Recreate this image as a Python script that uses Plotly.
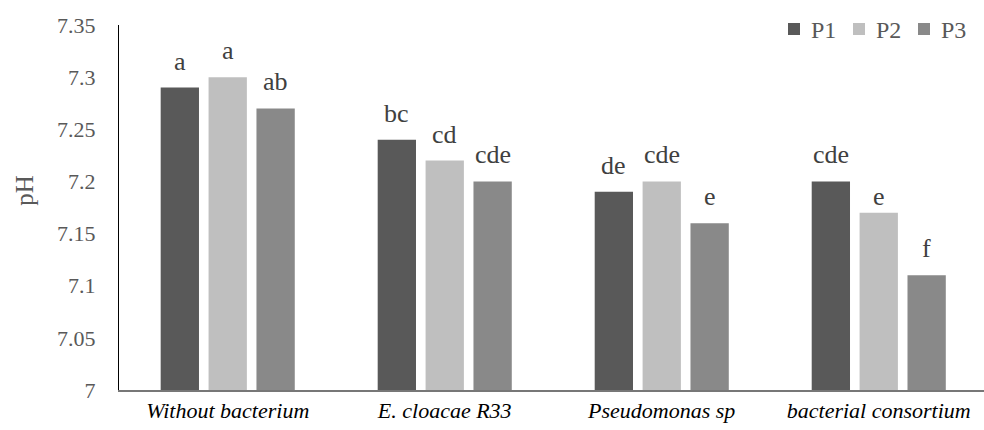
import plotly.graph_objects as go

# Treatments on the x axis and pH per sampling point
categories = ["Without bacterium", "E. cloacae R33", "Pseudomonas sp", "bacterial consortium"]
series_names = ["P1", "P2", "P3"]
p1_values = [7.29, 7.24, 7.19, 7.20]
p2_values = [7.30, 7.22, 7.20, 7.17]
p3_values = [7.27, 7.20, 7.16, 7.11]
p1_letters = ["a", "bc", "de", "cde"]
p2_letters = ["a", "cd", "cde", "e"]
p3_letters = ["ab", "cde", "e", "f"]
y_tick_values = [7.0, 7.05, 7.1, 7.15, 7.2, 7.25, 7.3, 7.35]
y_tick_labels = ["7", "7.05", "7.1", "7.15", "7.2", "7.25", "7.3", "7.35"]

# Styling
colors = ["#595959", "#bfbfbf", "#898989"]
FONT = "'Liberation Serif', 'Times New Roman', Times, serif"
SLOT = 0.2207      # distance between neighbouring bars, in category units
BAR_W = 0.1765     # bar width, in category units
LABEL_SHIFT = 10   # px between bar top and its letter label box
LABEL_NUDGE = {(1, 3): -10}   # (series, category) -> extra vertical px

# Legend geometry (px, measured from the right / top edge of the plot area)
LEG_FIRST = -196   # left edge of the first swatch
LEG_STEP = 65      # distance between entries
LEG_SWATCH = 12
LEG_TEXT_GAP = 21

values = [p1_values, p2_values, p3_values]
letters = [p1_letters, p2_letters, p3_letters]

fig = go.Figure()
annotations = []
shapes = []
for j, (name, vals, col, lets) in enumerate(zip(series_names, values, colors, letters)):
    xs = [i + (j - 1) * SLOT for i in range(len(categories))]
    fig.add_trace(go.Bar(
        x=xs, y=vals, width=BAR_W, name=name, showlegend=False,
        marker=dict(color=col, line=dict(width=0)),
    ))
    for i, (x, v, t) in enumerate(zip(xs, vals, lets)):
        annotations.append(dict(
            x=x, y=v, xref="x", yref="y", text=t, showarrow=False,
            yanchor="bottom", yshift=LABEL_SHIFT + LABEL_NUDGE.get((j, i), 0),
            font=dict(family=FONT, size=26, color="#404040"),
        ))

    # legend entry: swatch + name, top right
    left = LEG_FIRST + j * LEG_STEP
    shapes.append(dict(
        type="rect", xref="paper", yref="paper",
        xsizemode="pixel", ysizemode="pixel", xanchor=1, yanchor=1,
        x0=left, x1=left + LEG_SWATCH, y0=-10, y1=-10 + LEG_SWATCH,
        fillcolor=col, line=dict(width=0),
    ))
    annotations.append(dict(
        xref="paper", yref="paper", x=1, y=1, xanchor="left", yanchor="middle",
        xshift=left + LEG_TEXT_GAP, yshift=-5, text=name, showarrow=False,
        font=dict(family=FONT, size=24, color="#595959"),
    ))

annotations.append(dict(
    xref="paper", yref="paper", x=0, y=0.546, xshift=-94, text="pH",
    textangle=-90, showarrow=False, xanchor="center", yanchor="middle",
    font=dict(family=FONT, size=25, color="#595959"),
))

fig.update_layout(
    width=984, height=430,
    margin=dict(l=119, r=0, t=25, b=40),
    paper_bgcolor="white", plot_bgcolor="white",
    barmode="overlay",
    showlegend=False,
    font=dict(family=FONT),
    annotations=annotations,
    shapes=shapes,
    xaxis=dict(
        range=[-0.501, 3.485],
        tickvals=list(range(len(categories))),
        ticktext=categories,
        tickfont=dict(family=FONT, size=22, color="#000000", style="italic"),
        showline=True, linecolor="#777777", linewidth=1.5,
        showgrid=False, zeroline=False, ticks="",
        ticklabelstandoff=0,
    ),
    yaxis=dict(
        range=[7.0, 7.35],
        tickvals=y_tick_values, ticktext=y_tick_labels,
        tickfont=dict(family=FONT, size=22, color="#595959"),
        showline=True, linecolor="#000000", linewidth=1,
        showgrid=False, zeroline=False, ticks="",
        ticklabelstandoff=18,
    ),
)

fig.write_html("out.html")
